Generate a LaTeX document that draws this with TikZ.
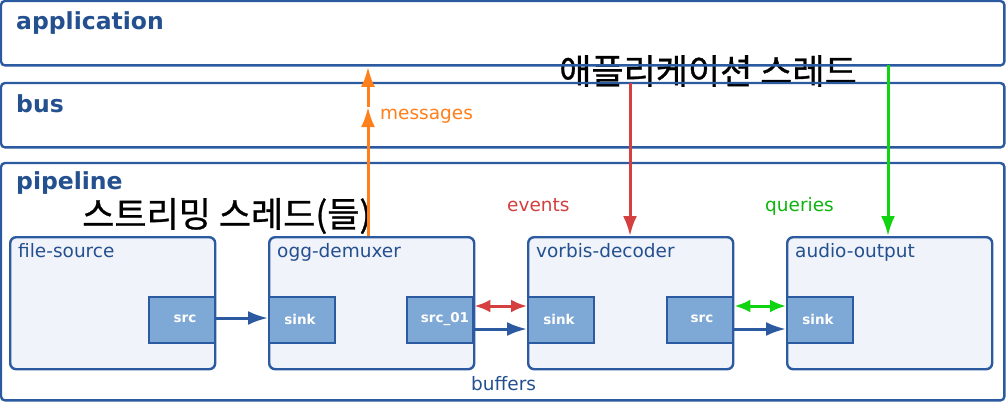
\documentclass[tikz,border=0pt]{standalone}
\usepackage{fontspec}
\setmainfont{DejaVu Sans}
\newfontfamily\kr[FakeBold=0.8]{Noto Sans CJK KR}
\usetikzlibrary{arrows.meta}
\definecolor{gblue}{HTML}{2C5AA0}
\definecolor{gtext}{HTML}{24508F}
\definecolor{elfill}{HTML}{F0F3F9}
\definecolor{padfill}{HTML}{7EA8D5}
\definecolor{gorange}{HTML}{FF7F1A}
\definecolor{gred}{HTML}{D43F3F}
\definecolor{ggreen}{HTML}{11D411}
\tikzset{
  layerfill/.style={fill=white, rounded corners=4pt, anchor=north west, inner sep=0pt},
  layerline/.style={draw=gblue, line width=2.4pt, rounded corners=4pt},
  elbox/.style={draw=gblue, line width=2.4pt, rounded corners=6pt, fill=elfill, anchor=north west, inner sep=0pt, minimum width=205pt, minimum height=132pt},
  padbox/.style={draw=gblue, line width=2.4pt, fill=padfill, anchor=north west, inner sep=0pt, minimum width=66pt, minimum height=46pt},
  heading/.style={text=gtext, anchor=base west, inner sep=0pt, font=\fontsize{23.5}{26}\selectfont\bfseries},
  ellabel/.style={text=gtext, anchor=base west, inner sep=0pt, font=\fontsize{18.5}{20}\selectfont},
  padlabel/.style={text=white, inner sep=0pt, anchor=base, font=\fontsize{13.5}{14}\selectfont\bfseries},
  conn/.style={line width=3pt},
  tip/.style={-{Latex[length=20pt,width=14pt]}},
  dtip/.style={{Latex[length=16pt,width=13pt]}-{Latex[length=16pt,width=13pt]}},
  krtext/.style={text=black, inner sep=0pt, font=\kr\fontsize{35}{38}\selectfont},
  sigtext/.style={inner sep=0pt, anchor=base west, font=\fontsize{18.5}{20}\selectfont}
}
\begin{document}
\begin{tikzpicture}[x=1pt,y=-1pt]
\useasboundingbox (0,0) rectangle (1006,402);
% layers (fill)
\node[layerfill, minimum width=1003pt, minimum height=64pt] (app) at (1,1) {};
\node[layerfill, minimum width=1003pt, minimum height=64pt] (bus) at (1,83) {};
\node[layerfill, minimum width=1003pt, minimum height=237pt] (pipe) at (1,163) {};
% korean labels
\node[krtext, anchor=west] (apth) at (559,71) {애플리케이션 스레드};
\node[krtext, anchor=west] (stth) at (82,216) {스트리밍 스레드(들)};
% layer borders
\draw[layerline] (app.north west) rectangle (app.south east);
\draw[layerline] (bus.north west) rectangle (bus.south east);
\draw[layerline] (pipe.north west) rectangle (pipe.south east);
\node[heading] (appl) at (16,29) {application};
\node[heading] (busl) at (16,112) {bus};
\node[heading] (pipel) at (16,189) {pipeline};
% elements
\node[elbox] (fs) at (9,236) {};
\node[elbox] (ogg) at (268,236) {};
\node[elbox] (vd) at (527,236) {};
\node[elbox] (ao) at (786,236) {};
\node[ellabel] (fsl) at (18,257) {file-source};
\node[ellabel] (oggl) at (277,257) {ogg-demuxer};
\node[ellabel] (vdl) at (536,257) {vorbis-decoder};
\node[ellabel] (aol) at (795,257) {audio-output};
% pads
\node[padbox] (fssrc) at (148,296) {};
\node[padbox] (oggsink) at (268,296) {};
\node[padbox] (oggsrc) at (406,296) {};
\node[padbox] (vdsink) at (527,296) {};
\node[padbox] (vdsrc) at (666,296) {};
\node[padbox] (aosink) at (786,296) {};
\node[padlabel] (fssrcl) at (185,322) {src};
\node[padlabel] (oggsinkl) at (300,324) {sink};
\node[padlabel] (oggsrcl) at (445,322) {src\_01};
\node[padlabel] (vdsinkl) at (559,324) {sink};
\node[padlabel] (vdsrcl) at (702,322) {src};
\node[padlabel] (aosinkl) at (818,324) {sink};
% data flow
\coordinate (r1) at (0,318);
\coordinate (r2) at (0,329);
\coordinate (r3) at (0,306);
\draw[conn, gblue, tip] (fssrc.east |- r1) -- (oggsink.west |- r1);
\draw[conn, gblue, tip] (oggsrc.east |- r2) -- (vdsink.west |- r2);
\draw[conn, gblue, tip] (vdsrc.east |- r2) -- (aosink.west |- r2);
\draw[conn, gred, dtip] (oggsrc.east |- r3) -- (vdsink.west |- r3);
\draw[conn, ggreen, dtip] (vdsrc.east |- r3) -- (aosink.west |- r3);
\node[sigtext, text=gtext] (buf) at (471,390) {buffers};
% messages
\coordinate (m) at (368,107);
\draw[conn, gorange, tip] (ogg.north -| m) -- (m);
\draw[conn, gorange, tip] (m) -- ([yshift=-1.5pt]app.south -| m);
\node[sigtext, text=gorange] (msg) at (380,119) {messages};
% events
\coordinate (e) at (630,0);
\draw[conn, gred, tip] (bus.north -| e) -- (vd.north -| e);
\node[sigtext, text=gred] (ev) at (507,211) {events};
% queries
\coordinate (q) at (888,0);
\draw[conn, ggreen, tip] (app.south -| q) -- (ao.north -| q);
\node[sigtext, text=ggreen!85!black] (qu) at (765,211) {queries};
\end{tikzpicture}
\end{document}
